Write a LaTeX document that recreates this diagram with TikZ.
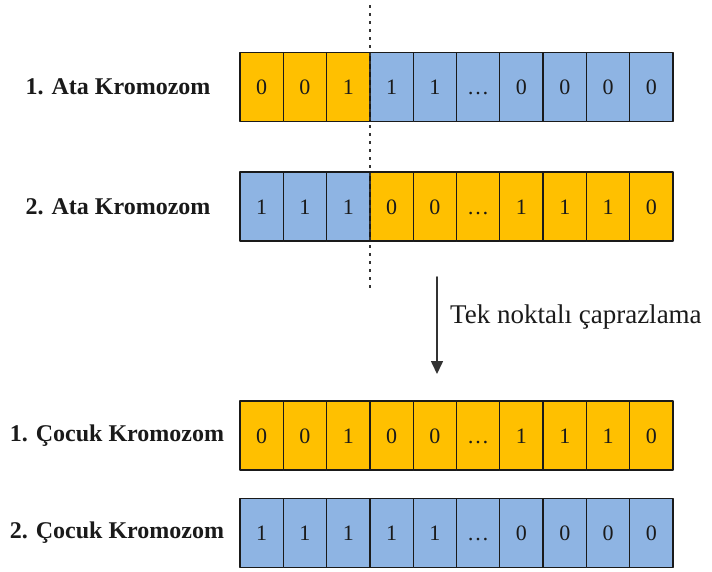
\documentclass[tikz,border=0pt]{standalone}
\usepackage{fontspec}
\setmainfont{Liberation Serif}
\usetikzlibrary{arrows.meta,positioning}
\definecolor{crossOrange}{HTML}{FFC000}
\definecolor{crossBlue}{HTML}{8EB4E3}
\definecolor{crossInk}{HTML}{1A1A1A}
\definecolor{crossGrey}{HTML}{333333}
\begin{document}
\begin{tikzpicture}[x=1pt,y=-1pt,>=Latex,line cap=round,line join=round]
\path[fill=white] (0,0) rectangle (712,571);
\tikzset{gene/.style={draw=crossInk,line width=1.3pt,minimum width=43.3pt,minimum height=69pt,inner sep=0pt,text height=15pt,text depth=0pt,text=crossInk,font=\rmfamily\fontsize{22}{24}\selectfont},orangegene/.style={gene,fill=crossOrange},bluegene/.style={gene,fill=crossBlue},rowlabel/.style={text=crossInk,font=\rmfamily\bfseries\fontsize{24}{26}\selectfont},cutline/.style={draw=crossGrey,line width=2.8pt,line cap=butt,dash pattern=on 2.8pt off 5.2pt}}
% parents: first three genes swapped at the cut
\foreach \v [count=\i] in {0,0,1,1,1,{\ldots},0,0,0,0} {\ifnum\i<4 \def\col{orangegene}\else\def\col{bluegene}\fi \node[\col] (p1-\i) at ({240+43.3*(\i-0.5)},87) {\v};}
\foreach \v [count=\i] in {1,1,1,0,0,{\ldots},1,1,1,0} {\ifnum\i<4 \def\col{bluegene}\else\def\col{orangegene}\fi \node[\col] (p2-\i) at ({240+43.3*(\i-0.5)},206.5) {\v};}
% children
\foreach \v [count=\i] in {0,0,1,0,0,{\ldots},1,1,1,0} {\node[orangegene] (c1-\i) at ({240+43.3*(\i-0.5)},435.5) {\v};}
\foreach \v [count=\i] in {1,1,1,1,1,{\ldots},0,0,0,0} {\node[bluegene] (c2-\i) at ({240+43.3*(\i-0.5)},533) {\v};}
\node[rowlabel] (lp1) at (118,87) {1. Ata Kromozom}; \node[rowlabel] (lp2) at (118,206.5) {2. Ata Kromozom};
\node[rowlabel] (lc1) at (117,435.5) {1. Çocuk Kromozom}; \node[rowlabel] (lc2) at (117,533) {2. Çocuk Kromozom};
\coordinate (cutTop) at (370,5); \coordinate (cutBot) at (370,290);
\draw[cutline] (cutTop) -- (cutBot);
\coordinate (opTop) at (437,277); \coordinate (opTip) at (437,374);
\draw[draw=crossGrey,line width=1.6pt,-{Triangle[width=12pt,length=13pt]}] (opTop) -- (opTip);
\node[anchor=base west,inner sep=0pt,text=crossInk,font=\rmfamily\fontsize{27}{29}\selectfont] (opLabel) at (450,323) {Tek noktalı çaprazlama};
\end{tikzpicture}
\end{document}
